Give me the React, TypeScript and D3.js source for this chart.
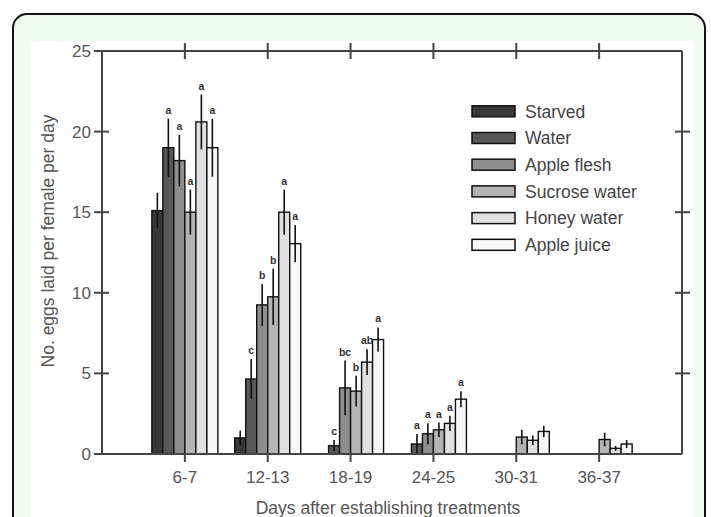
import React from "react";
import * as d3 from "d3";

const groups = ["6-7", "12-13", "18-19", "24-25", "30-31", "36-37"];
const seriesNames = ["Starved", "Water", "Apple flesh", "Sucrose water", "Honey water", "Apple juice"];

const starved = [15.1, 1.0, null, null, null, null];
const water = [19.0, 4.65, 0.52, 0.62, null, null];
const appleFlesh = [18.2, 9.25, 4.1, 1.25, null, null];
const sucroseWater = [15.0, 9.75, 3.9, 1.5, 1.05, 0.9];
const honeyWater = [20.6, 15.0, 5.7, 1.9, 0.85, 0.35];
const appleJuice = [19.0, 13.05, 7.1, 3.4, 1.4, 0.62];

const starvedErr = [1.1, 0.45, null, null, null, null];
const waterErr = [1.8, 1.25, 0.35, 0.62, null, null];
const appleFleshErr = [1.6, 1.3, 1.7, 0.65, null, null];
const sucroseWaterErr = [1.4, 1.75, 0.95, 0.45, 0.45, 0.42];
const honeyWaterErr = [1.7, 1.4, 0.8, 0.48, 0.3, 0.15];
const appleJuiceErr = [1.8, 1.15, 0.75, 0.5, 0.35, 0.25];

const starvedLetters = ["", "", "", "", "", ""];
const waterLetters = ["a", "c", "c", "a", "", ""];
const appleFleshLetters = ["a", "b", "bc", "a", "", ""];
const sucroseWaterLetters = ["a", "b", "b", "a", "", ""];
const honeyWaterLetters = ["a", "a", "ab", "a", "", ""];
const appleJuiceLetters = ["a", "a", "a", "a", "", ""];

const yTicks = [0, 5, 10, 15, 20, 25];

const seriesValues = [starved, water, appleFlesh, sucroseWater, honeyWater, appleJuice];
const seriesErrs = [starvedErr, waterErr, appleFleshErr, sucroseWaterErr, honeyWaterErr, appleJuiceErr];
const seriesLetters = [starvedLetters, waterLetters, appleFleshLetters, sucroseWaterLetters, honeyWaterLetters, appleJuiceLetters];
const fills = ["#383838", "#585858", "#8e8e8e", "#b4b4b4", "#e0e0e0", "#f7f7f7"];

const W = 711;
const H = 517;
const left = 102;
const right = 682;
const top = 51;
const bottom = 454;
const font = "'Liberation Sans', Arial, sans-serif";

export default function App() {
  const x0 = d3.scalePoint<string>().domain(groups).range([left, right]).padding(1);
  const x1 = d3.scaleBand<string>().domain(seriesNames).range([-33, 33]).padding(0);
  const y = d3.scaleLinear().domain([0, 25]).range([bottom, top]);
  const bw = x1.bandwidth();

  const bars: React.ReactNode[] = [];
  const errs: React.ReactNode[] = [];
  const letters: React.ReactNode[] = [];
  seriesNames.forEach((name, si) => {
    groups.forEach((g, gi) => {
      const v = seriesValues[si][gi];
      if (v == null) return;
      const e = seriesErrs[si][gi] ?? 0;
      const bx = (x0(g) ?? 0) + (x1(name) ?? 0);
      const cx = bx + bw / 2;
      bars.push(
        <rect key={`b${si}-${gi}`} x={bx} y={y(v)} width={bw} height={y(0) - y(v)}
          fill={fills[si]} stroke="#111" strokeWidth={1.4} />
      );
      errs.push(
        <line key={`e${si}-${gi}`} x1={cx} x2={cx} y1={y(v + e)} y2={Math.min(y(0), y(v - e))}
          stroke="#111" strokeWidth={1.6} />
      );
      const L = seriesLetters[si][gi];
      if (L) {
        letters.push(
          <text key={`l${si}-${gi}`} x={cx} y={y(v + e) - 5} textAnchor="middle"
            fontSize={10.5} fontWeight="bold" fill="#333" fontFamily={font}>{L}</text>
        );
      }
    });
  });

  return (
    <svg width={W} height={H} style={{ position: "absolute", left: 0, top: 0, display: "block" }}>
      <rect x={0} y={0} width={W} height={H} fill="#ffffff" />
      <rect x={13} y={14} width={692} height={560} rx={14} ry={14} fill="#f0fcf0" stroke="#111" strokeWidth={2} />
      <rect x={30} y={41} width={663} height={500} fill="#ffffff" />

      {bars}
      {errs}
      {letters}

      {/* frame */}
      <g stroke="#444" strokeWidth={2} fill="none">
        <line x1={left} x2={right} y1={top} y2={top} />
        <line x1={left} x2={right} y1={bottom} y2={bottom} />
        <line x1={left} x2={left} y1={top} y2={bottom} />
        <line x1={right} x2={right} y1={top} y2={bottom} />
      </g>
      {/* left ticks */}
      {yTicks.map((t) => (
        <g key={`yt${t}`}>
          <line x1={left - 8} x2={t === 25 ? left : left + 7} y1={y(t)} y2={y(t)} stroke="#444" strokeWidth={2} />
          <text x={left - 11} y={y(t)} dy="0.35em" textAnchor="end" fontSize={17} fill="#555" fontFamily={font}>{t}</text>
        </g>
      ))}
      {/* right ticks */}
      {yTicks.filter((t) => t > 0 && t < 25).map((t) => (
        <line key={`rt${t}`} x1={right - 7} x2={right + 8} y1={y(t)} y2={y(t)} stroke="#444" strokeWidth={2} />
      ))}
      {/* top and bottom ticks */}
      {groups.map((g) => (
        <g key={`xt${g}`}>
          <line x1={x0(g)} x2={x0(g)} y1={top - 8} y2={top + 8} stroke="#444" strokeWidth={2} />
          <line x1={x0(g)} x2={x0(g)} y1={bottom} y2={bottom + 8} stroke="#444" strokeWidth={2} />
          <text x={x0(g)} y={bottom + 29} textAnchor="middle" fontSize={17} fill="#555" fontFamily={font}>{g}</text>
        </g>
      ))}

      {/* axis titles */}
      <text x={388} y={514} textAnchor="middle" fontSize={17.5} fill="#555" fontFamily={font}>
        Days after establishing treatments
      </text>
      <text transform={`translate(54, 241) rotate(-90)`} textAnchor="middle" fontSize={17.5} fill="#555" fontFamily={font}>
        No. eggs laid per female per day
      </text>

      {/* legend */}
      {seriesNames.map((name, i) => {
        const cy = 111.3 + i * 26.7;
        return (
          <g key={`lg${i}`}>
            <rect x={472} y={cy - 5.5} width={43} height={11} fill={fills[i]} stroke="#111" strokeWidth={1.5} />
            <text x={525} y={cy} dy="0.36em" fontSize={17.5} fill="#444" fontFamily={font}>{name}</text>
          </g>
        );
      })}
    </svg>
  );
}
